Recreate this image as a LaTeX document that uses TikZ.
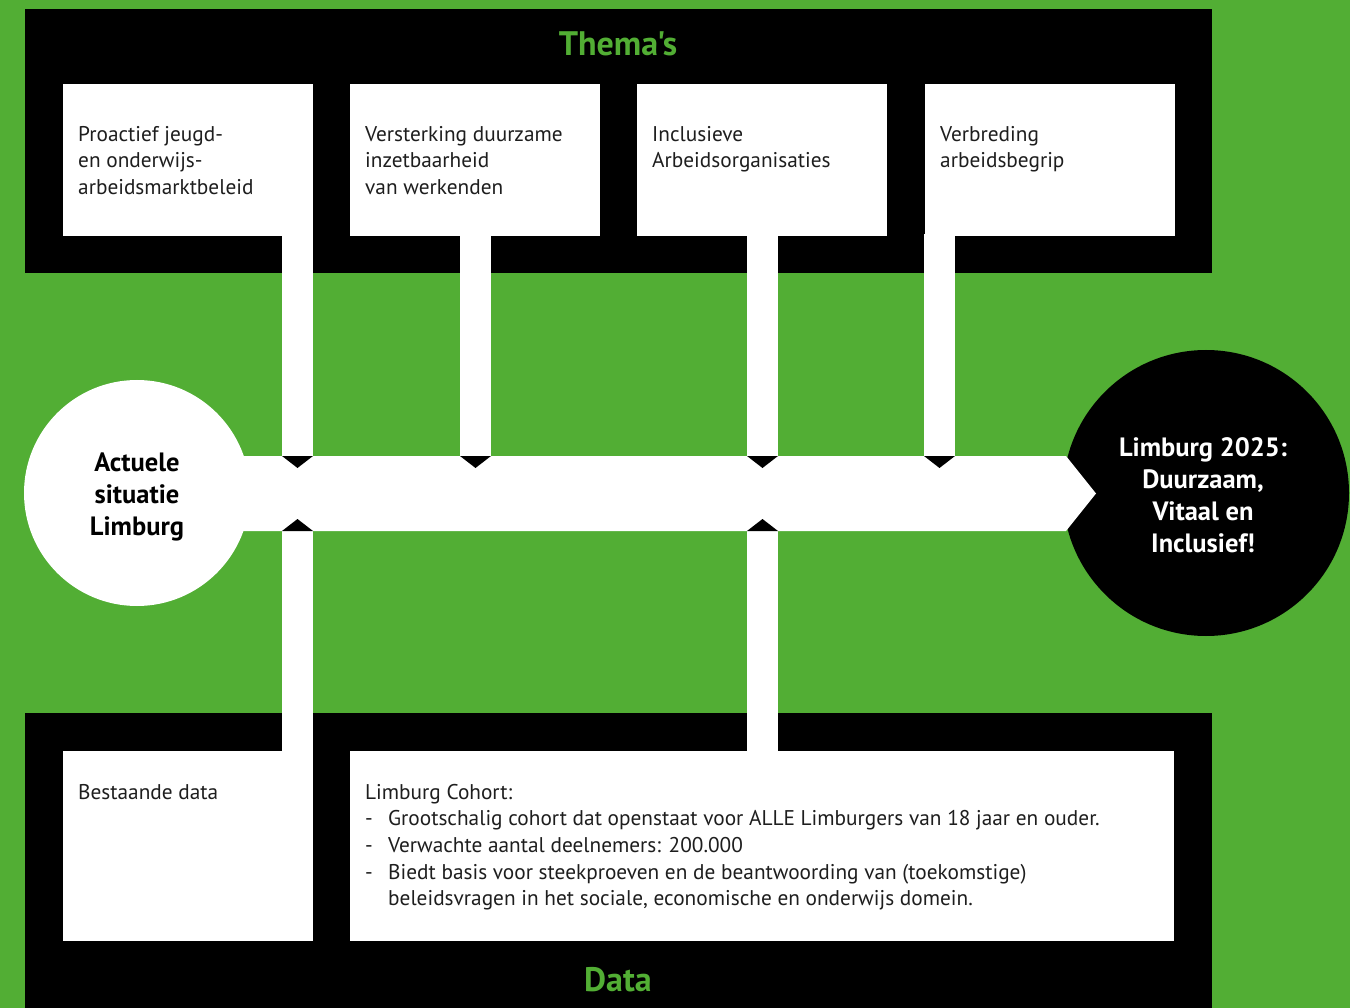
\documentclass[tikz,border=0pt]{standalone}
\usepackage{fontspec}
\setmainfont{PT Sans}[Ligatures=TeXOff]
\usetikzlibrary{calc}
\definecolor{lgreen}{HTML}{52AE34}
\definecolor{txt}{HTML}{1E1E1E}
\newcommand{\dashitem}{\makebox[23pt][l]{-}}
\begin{document}
\begin{tikzpicture}[x=1pt,y=-1pt,
  wbox/.style={fill=white, draw=none, anchor=north west, inner sep=0pt},
  btxt/.style={anchor=north west, inner sep=0pt, align=left, text=txt, font=\fontsize{21.3}{26.6}\selectfont},
  title/.style={text=lgreen, font=\fontsize{34}{36}\selectfont\bfseries},
  stem/.style={draw=white, line width=31pt},
  notch/.style={fill=black},
  ctext/.style={align=center, font=\fontsize{26.5}{32}\selectfont\bfseries}]
% background
\fill[lgreen] (0,0) rectangle (1350,1008);
\useasboundingbox (0,0) rectangle (1350,1008);
% panels
\node[fill=black, anchor=north west, inner sep=0pt, minimum width=1187pt, minimum height=264pt] (themapanel) at (25,9) {};
\node[fill=black, anchor=north west, inner sep=0pt, minimum width=1187pt, minimum height=295pt] (datapanel) at (25,713) {};
\node[title] (thematitle) at (618,44) {Thema's};
\node[title] (datatitle) at (618,980) {Data};
% theme boxes
\node[wbox, minimum width=250pt, minimum height=152pt] (t1) at (63,84) {};
\node[wbox, minimum width=250pt, minimum height=152pt] (t2) at (350,84) {};
\node[wbox, minimum width=250pt, minimum height=152pt] (t3) at (637,84) {};
\node[wbox, minimum width=250pt, minimum height=152pt] (t4) at (925,84) {};
\node[btxt] (t1txt) at ($(t1.north west)+(15,42)$) {Proactief jeugd-\\en onderwijs-\\arbeidsmarktbeleid};
\node[btxt] (t2txt) at ($(t2.north west)+(15,42)$) {Versterking duurzame\\inzetbaarheid\\van werkenden};
\node[btxt] (t3txt) at ($(t3.north west)+(15,42)$) {Inclusieve\\Arbeidsorganisaties};
\node[btxt] (t4txt) at ($(t4.north west)+(15,42)$) {Verbreding\\arbeidsbegrip};
% data boxes
\node[wbox, minimum width=250pt, minimum height=190pt] (d1) at (63,751) {};
\node[wbox, minimum width=824pt, minimum height=190pt] (d2) at (350,751) {};
\node[btxt] (d1txt) at ($(d1.north west)+(15,33)$) {Bestaande data};
\node[btxt] (d2txt) at ($(d2.north west)+(15,33)$) {Limburg Cohort:\\
\dashitem Grootschalig cohort dat openstaat voor ALLE Limburgers van 18 jaar en ouder.\\
\dashitem Verwachte aantal deelnemers: 200.000\\
\dashitem Biedt basis voor steekproeven en de beantwoording van (toekomstige)\\
\hspace{23pt}beleidsvragen in het sociale, economische en onderwijs domein.};
% coordinates on the band
\coordinate (b1t) at (297.5,456);
\coordinate (b2t) at (475.5,456);
\coordinate (b3t) at (762.5,456);
\coordinate (b4t) at (939.5,456);
\coordinate (b1b) at (297.5,531);
\coordinate (b3b) at (762.5,531);
% right circle
\node[circle, fill=black, minimum size=286pt, inner sep=0pt] (goal) at (1206,493) {};
% band
\fill[white] (200,456) -- (1066,456) -- (1096,493.5) -- (1066,531) -- (200,531) -- cycle;
% stems
\draw[stem] (t1.south east -| b1t) ++(0,-2) -- (b1t);
\draw[stem] (t2.south -| b2t) ++(0,-2) -- (b2t);
\draw[stem] (t3.south -| b3t) ++(0,-2) -- (b3t);
\draw[stem] (t4.south -| b4t) ++(0,-2) -- (b4t);
\draw[stem] (b1b) -- ($(d1.north -| b1b)+(0,2)$);
\draw[stem] (b3b) -- ($(d2.north -| b3b)+(0,2)$);
% notches
\foreach \c in {b1t,b2t,b3t,b4t}{\fill[notch] ($(\c)+(-15.5,0)$) -- ($(\c)+(15.5,0)$) -- ($(\c)+(0,12)$) -- cycle;}
\foreach \c in {b1b,b3b}{\fill[notch] ($(\c)+(-15.5,0)$) -- ($(\c)+(15.5,0)$) -- ($(\c)+(0,-12)$) -- cycle;}
% left circle
\node[circle, fill=white, minimum size=226pt, inner sep=0pt] (start) at (137,493) {};
\node[ctext, text=black] (starttxt) at (137,497) {Actuele\\situatie\\Limburg};
\node[ctext, text=white] (goaltxt) at (1203,495) {Limburg 2025:\\Duurzaam,\\Vitaal en\\Inclusief!};
\end{tikzpicture}
\end{document}
